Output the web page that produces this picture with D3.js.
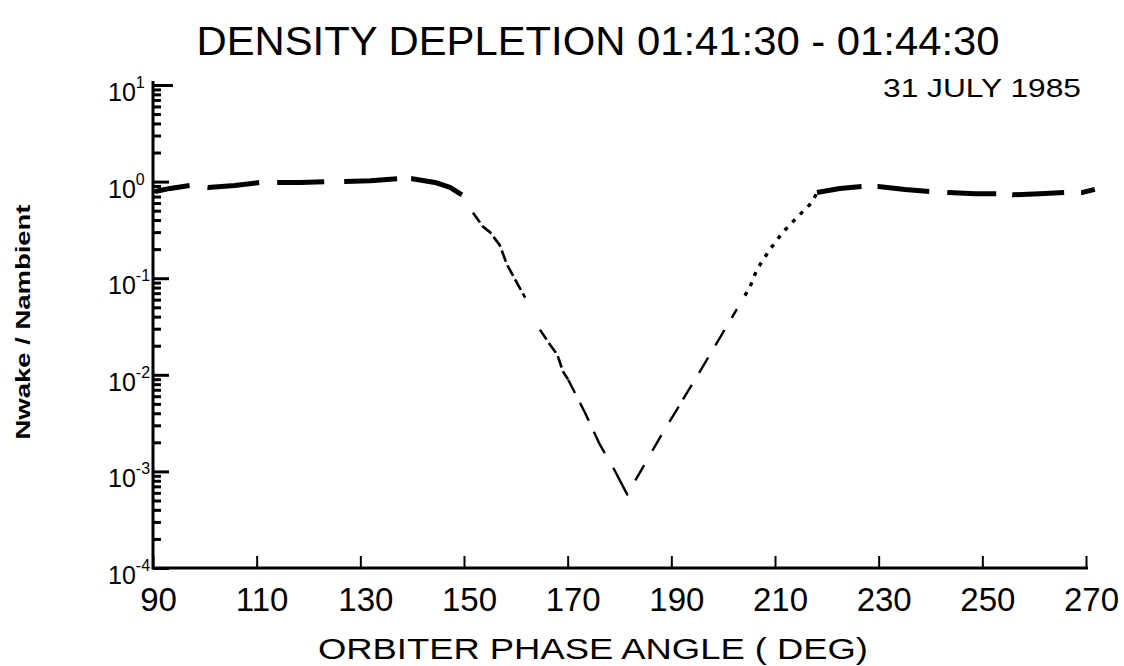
<!DOCTYPE html>
<html>
<head>
<meta charset="utf-8">
<script src="https://cdn.jsdelivr.net/npm/d3@7"></script>
<style>
  html, body { margin: 0; padding: 0; background: #fff; }
  svg { display: block; }
  text { font-family: "Liberation Sans", "DejaVu Sans", sans-serif; fill: #000; }
</style>
</head>
<body>
<svg id="chart" width="1124" height="666"></svg>
<script>
// ---- data ----
const phaseDeg = [
  90.4, 93.3, 97.1, 100.6, 105.8, 110.6, 114.1, 118.4, 123.2, 127.0, 131.9, 137.3,
  140.0, 144.4, 147.3, 149.6,
  151.7, 153.7, 155.0, 156.9, 158.3, 160.4, 161.8, 164.7, 166.6, 168.0, 169.1, 170.1,
  173.3, 176.2, 178.8, 181.5, 187.8, 195.5, 204.2,
  205.2, 206.5, 209.0, 211.6, 214.4, 217.1, 218.1,
  222.5, 226.8, 229.9, 235.1, 239.9, 243.4, 248.6, 252.8, 255.9, 261.1, 266.0, 269.2, 271.7
];
const densityRatio = [
  0.79, 0.85, 0.91, 0.87, 0.91, 0.98, 0.98, 0.98, 1.00, 1.00, 1.02, 1.07,
  1.07, 0.98, 0.87, 0.73,
  0.48, 0.34, 0.30, 0.22, 0.138, 0.086, 0.063, 0.029, 0.0205, 0.0162, 0.0108, 0.0089,
  0.0041, 0.0019, 0.00109, 0.000575, 0.00224, 0.0108, 0.066,
  0.082, 0.123, 0.198, 0.303, 0.434, 0.606, 0.77,
  0.85, 0.89, 0.89, 0.83, 0.79, 0.77, 0.75, 0.75, 0.73, 0.75, 0.77, 0.77, 0.83
];
const xTickValues = [90, 110, 130, 150, 170, 190, 210, 230, 250, 270];
const yDecadeExponents = [-4, -3, -2, -1, 0, 1];
const titleText = "DENSITY DEPLETION 01:41:30 - 01:44:30";
const dateText = "31 JULY 1985";
const xAxisTitle = "ORBITER PHASE ANGLE ( DEG)";
const yAxisTitle = "Nwake / Nambient";
// phase breakpoints where the plotted trace changes its pen style
const segmentBreaks = [149.6, 170.1, 204.2, 218.1];

// ---- layout ----
const svg = d3.select("#chart");
const x = d3.scaleLinear().domain([90, 270]).range([153, 1086]);
const y = d3.scaleLog().domain([1e-4, 10]).range([568, 85]);

// x axis
const xAxis = svg.append("g")
  .attr("transform", `translate(0,${y(1e-4)})`)
  .call(d3.axisBottom(x).tickValues(xTickValues).tickSize(-12).tickSizeOuter(0)
        .tickPadding(20).tickFormat(d3.format("d")));
xAxis.select(".domain").attr("stroke", "#000").attr("stroke-width", 3)
  .attr("d", `M${x(90)},0H${x(270) + 2}`);
xAxis.selectAll(".tick line").attr("stroke", "#000").attr("stroke-width", 2);
xAxis.selectAll(".tick text").attr("font-size", 33).attr("dx", 5)
  .style("font-family", "\"Liberation Sans\", sans-serif");

// y axis: minor ticks
const minorTicks = [];
for (let e = -4; e < 1; e++) for (let m = 2; m <= 9; m++) minorTicks.push(m * Math.pow(10, e));
const yMinor = svg.append("g").attr("transform", `translate(${x(90)},0)`)
  .call(d3.axisLeft(y).tickValues(minorTicks).tickSize(-8).tickSizeOuter(0).tickFormat(""));
yMinor.select(".domain").attr("stroke", "#000").attr("stroke-width", 3)
  .attr("d", `M0,${y(1e-4) + 1.5}V${y(10) - 4}`);
yMinor.selectAll(".tick line").attr("stroke", "#000").attr("stroke-width", 3);

const majorVals = yDecadeExponents.map(e => Math.pow(10, e));
const yMajor = svg.append("g").attr("transform", `translate(${x(90)},0)`)
  .call(d3.axisLeft(y).tickValues(majorVals).tickSize(-16).tickSizeOuter(0).tickFormat(""));
yMajor.select(".domain").remove();
yMajor.selectAll(".tick line").attr("stroke", "#000").attr("stroke-width", 3)
  .attr("x2", d => d === 10 ? 20 : 16);

// y decade labels with superscripts
const yLab = svg.append("g");
yDecadeExponents.forEach(e => {
  const t = yLab.append("text")
    .attr("x", 108).attr("y", y(Math.pow(10, e)) + 16)
    .attr("font-size", 25);
  t.append("tspan").text("10");
  t.append("tspan").attr("font-size", 16).attr("dy", -13).attr("dx", 0).text(String(e));
});

// data trace, drawn as pen segments with different dash styles
const pts = phaseDeg.map((p, i) => [p, densityRatio[i]]);
const line = d3.line().x(d => x(d[0])).y(d => y(d[1]));
const bounds = [-Infinity, ...segmentBreaks, Infinity];
const styles = [
  { w: 5, dash: "35,18,52,18,47,20,53,14,80", off: 0, cap: "butt" },
  { w: 2.6, dash: "12,4,12,4,12,4,12,4,12,4,12,4,4.8,35.3,12,4,12,4,12,4,9.6,21", off: 193.7, cap: "butt" },
  { w: 2.4, dash: "15,11,20,12,24,17,30.7,15.9,17.7,16.5,18,15.5,18,8.3,16.9,14,18,14,18,14,10.3,16", off: 360.8, cap: "butt" },
  { w: 3.4, dash: "4,7", off: 0, cap: "butt" },
  { w: 5, dash: "45,16,52,18,49,16,52,17,20", off: 0, cap: "butt" }
];
for (let s = 0; s < styles.length; s++) {
  const seg = pts.filter(d => d[0] >= bounds[s] && d[0] <= bounds[s + 1]);
  svg.append("path").datum(seg)
    .attr("d", line)
    .attr("fill", "none")
    .attr("stroke", "#000")
    .attr("stroke-width", styles[s].w)
    .attr("stroke-linecap", styles[s].cap)
    .attr("stroke-linejoin", "round")
    .attr("stroke-dasharray", styles[s].dash)
    .attr("stroke-dashoffset", styles[s].off);
}

// titles
svg.append("text").attr("x", 598).attr("y", 55).attr("text-anchor", "middle")
  .attr("font-size", 40).attr("textLength", 803).attr("lengthAdjust", "spacingAndGlyphs")
  .text(titleText);
svg.append("text").attr("x", 982).attr("y", 97).attr("text-anchor", "middle")
  .attr("font-size", 25).attr("textLength", 198).attr("lengthAdjust", "spacingAndGlyphs")
  .text(dateText);
svg.append("text").attr("x", 593).attr("y", 659).attr("text-anchor", "middle")
  .attr("font-size", 30).attr("textLength", 550).attr("lengthAdjust", "spacingAndGlyphs")
  .text(xAxisTitle);
svg.append("text").attr("transform", "translate(30,322) rotate(-90)")
  .attr("text-anchor", "middle").attr("font-size", 21).attr("font-weight", "bold")
  .attr("textLength", 235).attr("lengthAdjust", "spacingAndGlyphs")
  .text(yAxisTitle);
</script>
</body>
</html>
